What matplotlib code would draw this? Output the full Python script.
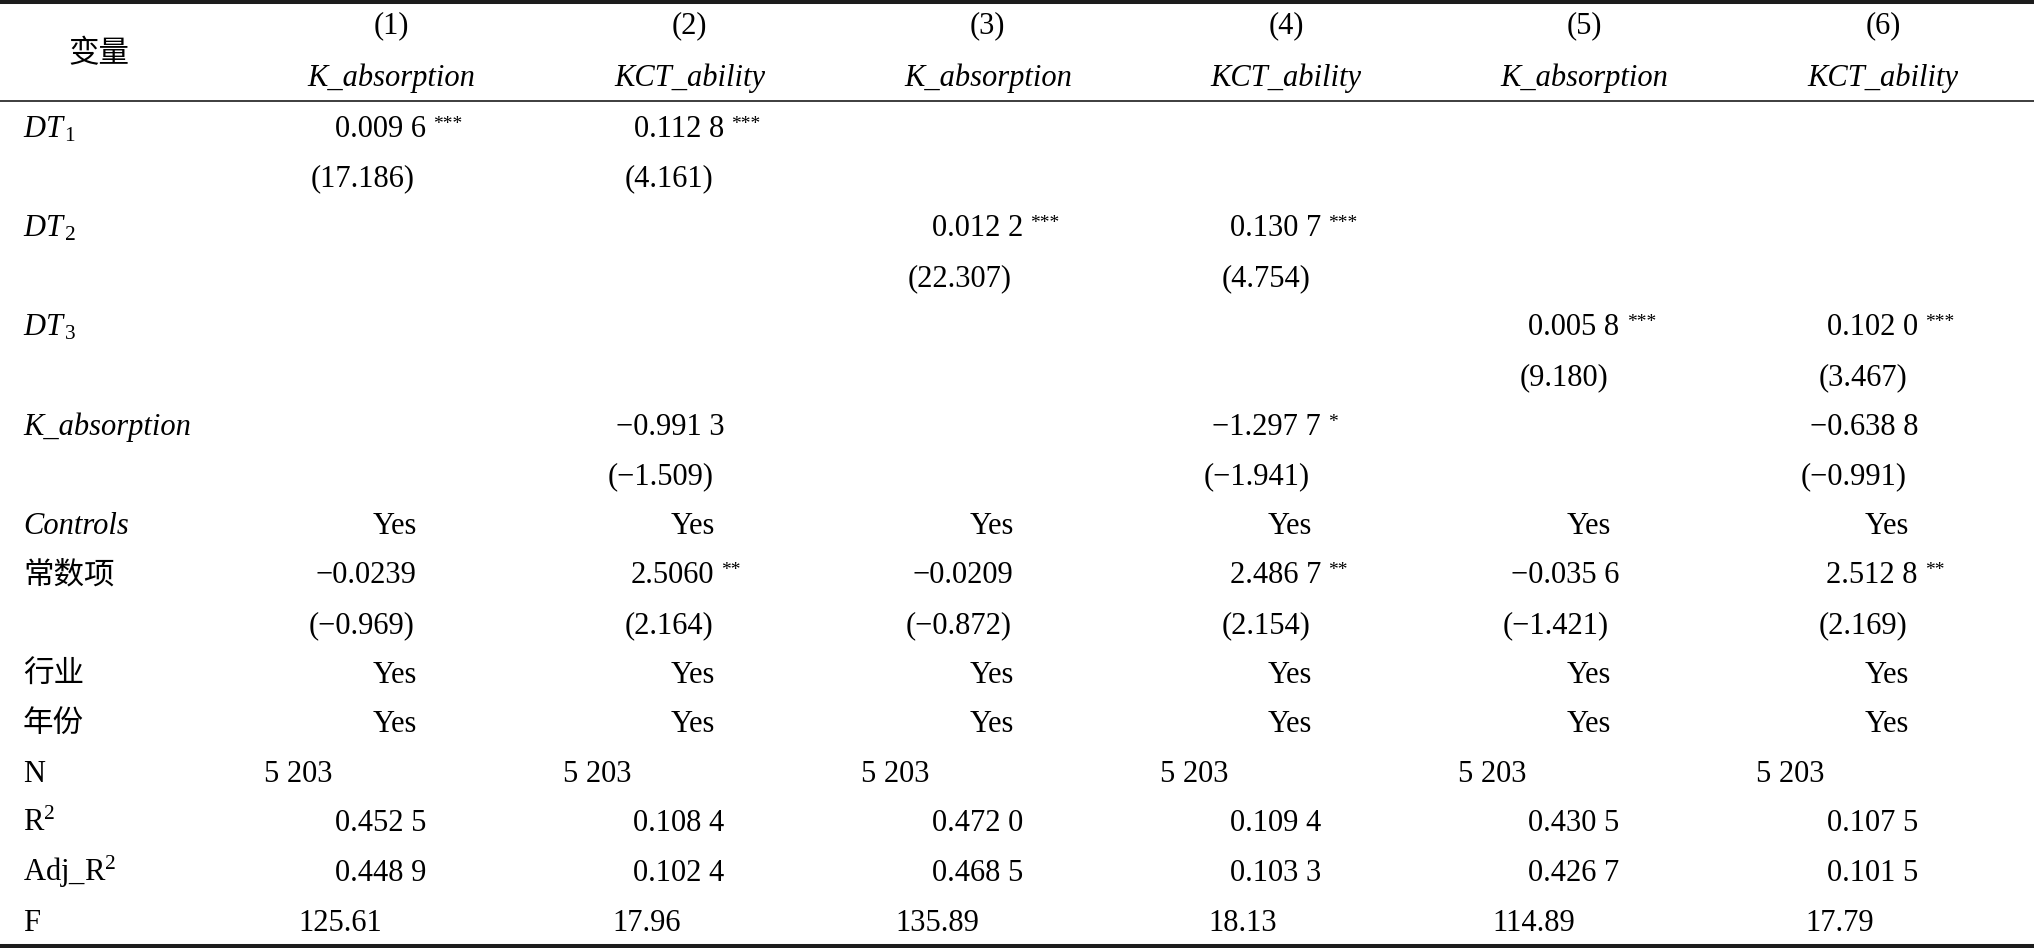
import matplotlib
matplotlib.use("Agg")
from matplotlib import pyplot as plt
import numpy as np

plt.rcParams["font.family"] = ["Liberation Serif", "Noto Sans CJK SC"]
plt.rcParams["mathtext.fontset"] = "custom"
plt.rcParams["mathtext.rm"] = "Liberation Serif"
plt.rcParams["mathtext.it"] = "Liberation Serif:italic"
plt.rcParams["mathtext.bf"] = "Liberation Serif:bold"

# table contents
models = ["(1)", "(2)", "(3)", "(4)", "(5)", "(6)"]
dep_vars = ["K_absorption", "KCT_ability", "K_absorption", "KCT_ability", "K_absorption", "KCT_ability"]

dt1 = ["0.009 6", "0.112 8", "", "", "", ""]
dt1_stars = ["***", "***", "", "", "", ""]
dt1_t = ["(17.186)", "(4.161)", "", "", "", ""]
dt2 = ["", "", "0.012 2", "0.130 7", "", ""]
dt2_stars = ["", "", "***", "***", "", ""]
dt2_t = ["", "", "(22.307)", "(4.754)", "", ""]
dt3 = ["", "", "", "", "0.005 8", "0.102 0"]
dt3_stars = ["", "", "", "", "***", "***"]
dt3_t = ["", "", "", "", "(9.180)", "(3.467)"]
kabs = ["", "−0.991 3", "", "−1.297 7", "", "−0.638 8"]
kabs_stars = ["", "", "", "*", "", ""]
kabs_t = ["", "(−1.509)", "", "(−1.941)", "", "(−0.991)"]
controls = ["Yes"] * 6
const = ["−0.0239", "2.5060", "−0.0209", "2.486 7", "−0.035 6", "2.512 8"]
const_stars = ["", "**", "", "**", "", "**"]
const_t = ["(−0.969)", "(2.164)", "(−0.872)", "(2.154)", "(−1.421)", "(2.169)"]
industry = ["Yes"] * 6
year = ["Yes"] * 6
n_obs = ["5 203"] * 6
r2 = ["0.452 5", "0.108 4", "0.472 0", "0.109 4", "0.430 5", "0.107 5"]
adj_r2 = ["0.448 9", "0.102 4", "0.468 5", "0.103 3", "0.426 7", "0.101 5"]
f_stat = ["125.61", "17.96", "135.89", "18.13", "114.89", "17.79"]

none = [""] * 6
# (label, label style, values, stars, kind)
rows = [
    (r"$DT_{\,1}$", "plain", dt1, dt1_stars, "coef"),
    ("", "plain", dt1_t, none, "paren"),
    (r"$DT_{\,2}$", "plain", dt2, dt2_stars, "coef"),
    ("", "plain", dt2_t, none, "paren"),
    (r"$DT_{\,3}$", "plain", dt3, dt3_stars, "coef"),
    ("", "plain", dt3_t, none, "paren"),
    ("K_absorption", "italic", kabs, kabs_stars, "coef"),
    ("", "plain", kabs_t, none, "paren"),
    ("Controls", "italic", controls, none, "yes"),
    ("常数项", "cjk", const, const_stars, "coef"),
    ("", "plain", const_t, none, "paren"),
    ("行业", "cjk", industry, none, "yes"),
    ("年份", "cjk", year, none, "yes"),
    ("N", "plain", n_obs, none, "n"),
    (r"R$^2$", "plain", r2, none, "coef"),
    (r"Adj_R$^2$", "plain", adj_r2, none, "coef"),
    ("F", "plain", f_stat, none, "f"),
]

W, H = 2034, 948
fs = 22
fs_cjk = 22
cjk = ["Noto Sans CJK SC"]

fig = plt.figure(figsize=(W / 100, H / 100), dpi=100)
ax = fig.add_axes([0, 0, 1, 1])
ax.set_xlim(0, W)
ax.set_ylim(H, 0)
ax.axis("off")

col_center = 391 + 298.4 * np.arange(len(models))
col_right = col_center + 24
row_y = 127 + 49.6 * np.arange(len(rows))
label_x = 23

# rules
ax.axhline(2, color="#1c1c1c", lw=2.9)
ax.axhline(101, color="#1c1c1c", lw=1.2)
ax.axhline(946, color="#1c1c1c", lw=2.9)

# header
ax.text(99, 54, "变量", family=cjk, fontsize=fs_cjk, ha="center", va="center")
for x, m, d in zip(col_center, models, dep_vars):
    ax.text(x, 33, m, fontsize=fs, ha="center", va="baseline")
    ax.text(x, 86, d, fontsize=fs, style="italic", ha="center", va="baseline")


def offset(kind, s):
    if kind == "coef":
        return 11 if " " in s else 1
    return {"paren": 0, "yes": 2, "n": -82, "f": -33}[kind]


for y, (label, lstyle, vals, stars, kind) in zip(row_y, rows):
    base = y + 10
    if label:
        if lstyle == "cjk":
            ax.text(label_x, base, label, family=cjk, fontsize=fs_cjk, va="baseline")
        elif lstyle == "italic":
            ax.text(label_x, base, label, fontsize=fs, style="italic", va="baseline")
        else:
            ax.text(label_x, base, label, fontsize=fs, va="baseline")
    for xr, v, st in zip(col_right, vals, stars):
        if not v:
            continue
        xe = xr + offset(kind, v)
        ax.text(xe, base, v, fontsize=fs, ha="right", va="baseline")
        if st:
            ax.text(xe + 7, y + 2, st, fontsize=14, ha="left", va="baseline")

fig.savefig("out.png", dpi=100, facecolor="white")
